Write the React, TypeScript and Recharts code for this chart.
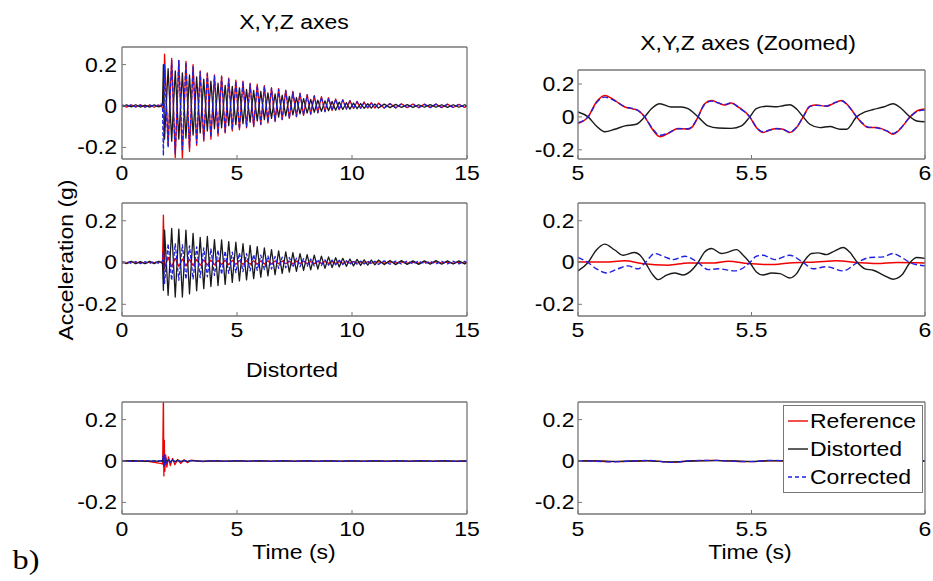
import React from 'react';
import { LineChart, Line, XAxis, YAxis, Legend } from 'recharts';

// ---------------------------------------------------------------------------
// Left column (0-15 s). Quiet lead-in, then one sample per half period of the
// decaying ring-down (peak values), then a quiet tail.
// ---------------------------------------------------------------------------

const LEAD_T = [0, 0.2, 0.4, 0.6, 0.8, 1.0, 1.2, 1.4, 1.6, 1.76, 1.8];
const RING_START = 1.85;
const HALF_PERIOD = 0.155;
const RING_SAMPLES = 60;
const TAIL_T = [11.15, 11.4, 11.65, 11.9, 12.15, 12.4, 12.65, 12.9, 13.15, 13.4, 13.65, 13.9, 14.15, 14.4, 14.65, 14.9, 15];
const TIME_LEFT = [
  ...LEAD_T,
  ...Array.from({ length: RING_SAMPLES }, (_, i) => +(RING_START + i * HALF_PERIOD).toFixed(3)),
  ...TAIL_T,
];

// X,Y,Z axes
const XYZ_REF = [
  0.004, -0.005, 0.005, -0.004, 0.006, -0.005, 0.004, -0.006, 0.005, -0.006, -0.01,
  0.25, -0.19, 0.23, -0.25, 0.22, -0.255, 0.215, -0.22, 0.2, -0.19,
  0.17, -0.17, 0.16, -0.16, 0.15, -0.145, 0.145, -0.13, 0.135, -0.12,
  0.125, -0.115, 0.12, -0.105, 0.11, -0.1, 0.105, -0.09, 0.098, -0.082,
  0.088, -0.075, 0.084, -0.066, 0.077, -0.06, 0.07, -0.052, 0.062, -0.045,
  0.055, -0.04, 0.05, -0.033, 0.045, -0.027, 0.04, -0.022, 0.034, -0.018,
  0.03, -0.015, 0.026, -0.012, 0.022, -0.011, 0.019, -0.01, 0.016, -0.01,
  0.014, -0.01, 0.012, -0.009, 0.011, -0.008, 0.01, -0.008, 0.009, -0.007, 0.009, -0.008, 0.009, -0.007, 0.008, -0.007, 0.003,
];
const XYZ_DIST = [
  -0.003, 0.005, -0.004, 0.006, -0.005, 0.004, -0.005, 0.005, -0.004, 0.005, 0.2,
  -0.16, 0.18, -0.17, 0.17, -0.16, 0.16, -0.155, 0.15, -0.14, 0.14,
  -0.13, 0.13, -0.12, 0.12, -0.11, 0.11, -0.105, 0.1, -0.095, 0.095,
  -0.09, 0.088, -0.085, 0.08, -0.078, 0.075, -0.072, 0.07, -0.066, 0.063,
  -0.06, 0.058, -0.054, 0.052, -0.048, 0.046, -0.043, 0.041, -0.038, 0.036,
  -0.034, 0.032, -0.03, 0.028, -0.026, 0.025, -0.023, 0.022, -0.02, 0.019,
  -0.017, 0.016, -0.015, 0.014, -0.013, 0.012, -0.011, 0.011, -0.01, 0.01,
  -0.01, 0.009, -0.008, 0.008, -0.007, 0.007, -0.007, 0.006, -0.006, 0.007, -0.006, 0.006, -0.007, 0.006, -0.006, 0.006, 0,
];
const XYZ_CORR = [
  0.005, -0.004, 0.006, -0.005, 0.004, -0.006, 0.005, -0.004, 0.006, 0.01, -0.24,
  0.2, -0.2, 0.22, -0.23, 0.22, -0.21, 0.21, -0.2, 0.19, -0.18,
  0.165, -0.16, 0.155, -0.15, 0.145, -0.135, 0.14, -0.125, 0.13, -0.115,
  0.12, -0.11, 0.115, -0.1, 0.105, -0.095, 0.1, -0.088, 0.095, -0.08,
  0.087, -0.072, 0.08, -0.064, 0.074, -0.058, 0.068, -0.05, 0.06, -0.044,
  0.054, -0.038, 0.048, -0.032, 0.043, -0.027, 0.038, -0.022, 0.033, -0.018,
  0.029, -0.015, 0.025, -0.012, 0.021, -0.011, 0.018, -0.011, 0.015, -0.01,
  0.012, -0.01, 0.011, -0.009, 0.01, -0.008, 0.009, -0.008, 0.008, -0.008, 0.009, -0.007, 0.008, -0.007, 0.008, -0.007, 0.002,
];

// middle row
const MID_REF = [
  0.002, -0.002, 0.003, -0.002, 0.002, -0.003, 0.002, -0.002, 0.003, 0, 0.227,
  -0.03, 0.025, -0.02, 0.02, -0.018, 0.017, -0.016, 0.015, -0.014, 0.014,
  -0.013, 0.013, -0.012, 0.012, -0.011, 0.011, -0.01, 0.011, -0.01, 0.01,
  -0.009, 0.01, -0.009, 0.009, -0.008, 0.009, -0.008, 0.008, -0.007, 0.008,
  -0.007, 0.007, -0.006, 0.007, -0.006, 0.006, -0.006, 0.006, -0.005, 0.006,
  -0.005, 0.005, -0.005, 0.005, -0.004, 0.005, -0.004, 0.004, -0.004, 0.004,
  -0.004, 0.004, -0.003, 0.004, -0.003, 0.003, -0.003, 0.003, -0.003, 0.003,
  0.003, -0.003, 0.003, -0.002, 0.003, -0.003, 0.002, -0.003, 0.003, -0.002, 0.003, -0.002, 0.002, -0.003, 0.002, -0.002, 0,
];
const MID_DIST = [
  0.005, -0.005, 0.006, -0.006, 0.005, -0.006, 0.006, -0.005, 0.006, -0.005, -0.133,
  0.155, -0.157, 0.163, -0.165, 0.16, -0.165, 0.155, -0.15, 0.14, -0.135,
  0.12, -0.125, 0.125, -0.115, 0.11, -0.11, 0.108, -0.105, 0.1, -0.095,
  0.097, -0.088, 0.09, -0.083, 0.082, -0.077, 0.076, -0.07, 0.07, -0.064,
  0.062, -0.058, 0.056, -0.052, 0.051, -0.046, 0.047, -0.042, 0.043, -0.038,
  0.038, -0.035, 0.035, -0.031, 0.031, -0.028, 0.027, -0.024, 0.023, -0.021,
  0.02, -0.018, 0.017, -0.016, 0.015, -0.014, 0.013, -0.012, 0.012, -0.011,
  0.012, -0.01, 0.01, -0.01, 0.009, -0.009, 0.008, -0.009, 0.008, -0.008, 0.009, -0.008, 0.008, -0.007, 0.008, -0.007, 0.002,
];
const MID_CORR = [
  -0.004, 0.005, -0.004, 0.005, -0.005, 0.004, -0.005, 0.005, -0.004, 0.005, 0.05,
  -0.1, 0.09, -0.085, 0.09, -0.085, 0.085, -0.08, 0.08, -0.078, 0.075,
  -0.072, 0.07, -0.068, 0.065, -0.062, 0.06, -0.057, 0.055, -0.052, 0.05,
  -0.048, 0.046, -0.044, 0.042, -0.04, 0.038, -0.037, 0.035, -0.034, 0.032,
  -0.031, 0.029, -0.028, 0.026, -0.025, 0.024, -0.023, 0.021, -0.02, 0.019,
  -0.018, 0.017, -0.016, 0.015, -0.014, 0.013, -0.013, 0.012, -0.011, 0.011,
  -0.01, 0.009, -0.009, 0.008, -0.008, 0.007, -0.007, 0.007, -0.006, 0.006,
  -0.009, 0.008, -0.008, 0.007, -0.007, 0.007, -0.006, 0.007, -0.006, 0.006, -0.007, 0.006, -0.006, 0.006, -0.006, 0.006, 0,
];

// "Distorted" row: only the impact spike, then flat
const TIME_BOT = [
  0, 0.5, 1.0, 1.4, 1.6, 1.72, 1.77, 1.8, 1.82, 1.84,
  1.86, 1.9, 1.95, 2.02, 2.1, 2.2, 2.3, 2.42, 2.55, 2.7,
  2.85, 3.0, 3.5, 4, 4.5, 5, 5.5, 6, 6.5, 7,
  7.5, 8, 8.5, 9, 9.5, 10, 10.5, 11, 11.5, 12,
  12.5, 13, 13.5, 14, 14.5, 15,
];
const BOT_REF = [
  0.002, -0.002, 0.001, -0.006, -0.01, -0.012, -0.015, 0.33, -0.072, 0.1,
  -0.05, 0.03, -0.03, 0.02, -0.022, 0.012, -0.018, 0.008, -0.012, 0.006,
  -0.008, 0.004, -0.003, 0.002, -0.002, 0.002, -0.002, 0.002, -0.002, 0.002,
  -0.002, 0.002, -0.002, 0.002, -0.002, 0.002, -0.002, 0.002, -0.002, 0.002,
  -0.002, 0.002, -0.002, 0.002, -0.002, 0,
];
const BOT_DIST = [
  0, 0.002, -0.002, 0.001, -0.002, 0.002, -0.003, 0.012, -0.018, 0.014,
  -0.01, 0.007, -0.006, 0.005, -0.004, 0.004, -0.003, 0.003, -0.002, 0.002,
  -0.002, 0.002, -0.001, 0.001, -0.001, 0.001, -0.001, 0.001, -0.001, 0.001,
  -0.001, 0.001, -0.001, 0.001, -0.001, 0.001, -0.001, 0.001, -0.001, 0.001,
  -0.001, 0.001, -0.001, 0.001, -0.001, 0,
];
const BOT_CORR = [
  0.001, -0.002, 0.002, -0.001, 0.002, -0.002, 0.003, 0.028, -0.025, 0.03,
  -0.02, 0.015, -0.01, 0.008, -0.006, 0.005, -0.004, 0.003, -0.003, 0.002,
  -0.002, 0.002, -0.002, 0.002, -0.002, 0.002, -0.002, 0.002, -0.002, 0.002,
  -0.002, 0.002, -0.002, 0.002, -0.002, 0.002, -0.002, 0.002, -0.002, 0.002,
  -0.002, 0.002, -0.002, 0.002, -0.002, 0,
];

// ---------------------------------------------------------------------------
// Right column (5-6 s zoom)
// ---------------------------------------------------------------------------

const ZXYZ_RC_T = [
  5.0, 5.029, 5.053, 5.077, 5.106, 5.135, 5.159, 5.173, 5.192, 5.216,
  5.236, 5.26, 5.288, 5.317, 5.332, 5.346, 5.365, 5.385, 5.404, 5.423,
  5.442, 5.462, 5.495, 5.514, 5.533, 5.553, 5.572, 5.591, 5.61, 5.63,
  5.649, 5.668, 5.687, 5.716, 5.735, 5.759, 5.779, 5.803, 5.822, 5.836,
  5.86, 5.889, 5.908, 5.928, 5.957, 5.981, 6.0,
];
const ZXYZ_REF = [
  -0.04, 0, 0.09, 0.13, 0.1, 0.06, 0.048, 0.04, 0, -0.08,
  -0.12, -0.1, -0.07, -0.075, -0.054, 0, 0.08, 0.1, 0.085, 0.072,
  0.085, 0.06, 0, -0.065, -0.095, -0.08, -0.07, -0.075, -0.095, -0.065,
  0, 0.065, 0.072, 0.065, 0.08, 0.1, 0.068, 0, -0.045, -0.065,
  -0.065, -0.085, -0.105, -0.075, 0, 0.04, 0.048,
];
const ZXYZ_CORR = [
  -0.035, 0, 0.085, 0.12, 0.098, 0.062, 0.05, 0.038, 0, -0.075,
  -0.112, -0.098, -0.072, -0.072, -0.05, 0, 0.076, 0.096, 0.085, 0.075,
  0.086, 0.058, 0, -0.062, -0.09, -0.08, -0.072, -0.076, -0.092, -0.062,
  0, 0.062, 0.07, 0.066, 0.082, 0.098, 0.066, 0, -0.042, -0.062,
  -0.066, -0.084, -0.1, -0.072, 0, 0.036, 0.042,
];
const ZXYZ_DIST_T = [
  5.0, 5.029, 5.053, 5.077, 5.106, 5.135, 5.168, 5.192, 5.211, 5.236,
  5.269, 5.298, 5.317, 5.346, 5.375, 5.404, 5.442, 5.471, 5.495, 5.514,
  5.543, 5.572, 5.591, 5.61, 5.63, 5.649, 5.668, 5.697, 5.726, 5.755,
  5.774, 5.803, 5.827, 5.851, 5.88, 5.908, 5.933, 5.957, 5.976, 6.0,
];
const ZXYZ_DIST = [
  0.03, 0, -0.055, -0.09, -0.075, -0.055, -0.045, 0, 0.048, 0.08,
  0.06, 0.06, 0.05, 0, -0.055, -0.068, -0.07, -0.055, 0, 0.05,
  0.065, 0.062, 0.068, 0.074, 0.048, 0, -0.045, -0.065, -0.058, -0.075,
  -0.075, 0, 0.03, 0.045, 0.06, 0.08, 0.048, 0, -0.025, -0.03,
];

const ZMID_REF_T = [5.0, 5.077, 5.135, 5.183, 5.26, 5.317, 5.394, 5.433, 5.49, 5.553, 5.61, 5.687, 5.745, 5.803, 5.86, 5.918, 6.0];
const ZMID_REF = [0.002, 0.002, 0.008, -0.005, -0.013, -0.002, -0.002, 0.006, -0.005, -0.01, -0.002, 0.003, 0.008, 0, -0.005, 0, -0.002];
const ZMID_DIST_T = [
  5.0, 5.029, 5.053, 5.077, 5.106, 5.13, 5.163, 5.183, 5.194, 5.216,
  5.231, 5.255, 5.279, 5.303, 5.322, 5.346, 5.365, 5.385, 5.413, 5.433,
  5.457, 5.476, 5.495, 5.514, 5.533, 5.558, 5.582, 5.61, 5.63, 5.649,
  5.673, 5.692, 5.716, 5.74, 5.764, 5.783, 5.805, 5.827, 5.851, 5.88,
  5.908, 5.933, 5.957, 5.976, 6.0,
];
const ZMID_DIST = [
  -0.04, 0, 0.06, 0.088, 0.06, 0.035, 0.048, 0.027, 0, -0.06,
  -0.082, -0.06, -0.05, -0.06, -0.045, 0, 0.05, 0.067, 0.043, 0.05,
  0.062, 0.035, 0, -0.045, -0.06, -0.05, -0.053, -0.074, -0.053, 0,
  0.043, 0.046, 0.038, 0.056, 0.072, 0.05, 0, -0.03, -0.037, -0.06,
  -0.08, -0.06, 0, 0.024, 0.02,
];
const ZMID_CORR_T = [
  5.0, 5.029, 5.053, 5.082, 5.115, 5.144, 5.173, 5.194, 5.221, 5.25,
  5.274, 5.308, 5.346, 5.375, 5.404, 5.452, 5.481, 5.495, 5.514, 5.533,
  5.567, 5.61, 5.649, 5.678, 5.716, 5.764, 5.805, 5.841, 5.88, 5.908,
  5.933, 5.957, 6.0,
];
const ZMID_CORR = [
  0.024, 0, -0.03, -0.05, -0.03, -0.016, -0.03, 0, 0.043, 0.027,
  0.014, 0.03, 0, -0.034, -0.03, -0.04, -0.02, 0, 0.03, 0.035,
  0.014, 0.035, 0, -0.03, -0.02, -0.04, 0, 0.024, 0.027, 0.043,
  0.024, 0, -0.016,
];

const ZBOT_T = [5.0, 5.05, 5.1, 5.15, 5.2, 5.27, 5.33, 5.4, 5.45, 5.5, 5.55, 5.6, 5.65, 5.7, 5.75, 5.8, 5.85, 5.9, 5.95, 6.0];
const ZBOT_REF = [0.002, 0, -0.003, -0.002, 0.002, -0.006, 0.001, 0.003, -0.001, -0.003, 0.002, 0.001, -0.002, 0.002, 0.001, -0.002, 0.002, 0, -0.002, 0.001];
const ZBOT_DIST = [0, 0.001, -0.002, 0, 0.001, -0.004, 0, 0.002, 0, -0.002, 0.001, 0, -0.001, 0.001, 0, -0.001, 0.001, 0, -0.001, 0];
const ZBOT_CORR = [0.001, -0.001, -0.004, -0.001, 0.003, -0.007, 0.002, 0.003, -0.002, -0.003, 0.003, 0.001, -0.003, 0.002, 0.002, -0.002, 0.003, -0.001, -0.002, 0.001];

const LEFT_TICKS = [0, 5, 10, 15];
const RIGHT_TICKS = [5, 5.5, 6];
const Y_TICKS = [-0.2, 0, 0.2];
const Y_DOMAIN: [number, number] = [-0.256, 0.285];

// ---------------------------------------------------------------------------
// Styling
// ---------------------------------------------------------------------------

const FONT = '"Liberation Sans", Arial, Helvetica, sans-serif';
const SX = 1.15; // the figure's lettering is slightly wide
const RED = '#f00000';
const BLACK = '#1a1a1a';
const BLUE = '#2020e0';
const AXIS = '#777777';
const Y_AXIS_W = 50;
const X_AXIS_H = 32;
const RIGHT_PAD = 12;
const TICK = 4;

const LEGEND_ITEMS = [
  { name: 'Reference', color: RED, dash: undefined as string | undefined },
  { name: 'Distorted', color: BLACK, dash: undefined as string | undefined },
  { name: 'Corrected', color: BLUE, dash: '4 3' },
];

type Series = { t: number[]; v: number[]; color: string; width: number; dash?: string; curve: 'linear' | 'monotone' };
type Box = { x: number; y: number; w: number; h: number };

const toPoints = (t: number[], v: number[]) => t.map((x, i) => ({ t: x, v: v[i] }));
const fmt = (v: number) => String(v);

const XTick = (props: any) => {
  const { x, y, payload } = props;
  return (
    <text transform={`translate(${x},${y}) scale(${SX},1)`} textAnchor="middle" dominantBaseline="central"
      fontSize={20} fontFamily={FONT} fill="#000">
      {fmt(payload.value)}
    </text>
  );
};

const YTick = (props: any) => {
  const { x, y, payload } = props;
  return (
    <text transform={`translate(${x},${y}) scale(${SX},1)`} textAnchor="end" dominantBaseline="central"
      fontSize={20} fontFamily={FONT} fill="#000">
      {fmt(payload.value)}
    </text>
  );
};

const LegendBox = () => (
  <svg width={140} height={88} style={{ display: 'block' }}>
    <rect x={0.5} y={0.5} width={139} height={87} fill="#fff" stroke={AXIS} strokeWidth={1} />
    {LEGEND_ITEMS.map((it, i) => {
      const cy = 16 + i * 28;
      return (
        <g key={it.name}>
          <line x1={5} x2={25} y1={cy} y2={cy} stroke={it.color} strokeWidth={1.4} strokeDasharray={it.dash} />
          <text transform={`translate(27,${cy}) scale(${SX},1)`} dominantBaseline="central" fontSize={20} fontFamily={FONT} fill="#000">
            {it.name}
          </text>
        </g>
      );
    })}
  </svg>
);

const Panel = ({ box, xDomain, xTicks, series, xGap, yGap, legend }: {
  box: Box; xDomain: [number, number]; xTicks: number[]; series: Series[]; xGap: number; yGap: number; legend?: { x: number; y: number };
}) => {
  const width = box.w + Y_AXIS_W + 1 + RIGHT_PAD;
  const height = box.h + 1 + X_AXIS_H;
  const axisLine = { stroke: AXIS, strokeWidth: 1.3 };
  const tickLine = { stroke: AXIS, strokeWidth: 1 };
  return (
    <div style={{ position: 'absolute', left: box.x - Y_AXIS_W, top: box.y - 1 }}>
      <LineChart width={width} height={height} margin={{ top: 0, right: RIGHT_PAD, bottom: 0, left: 0 }}>
        <XAxis xAxisId="b" type="number" dataKey="t" domain={xDomain} ticks={xTicks} interval={0} allowDataOverflow
          height={X_AXIS_H} tickSize={-TICK} tickMargin={xGap} tick={<XTick />} axisLine={axisLine} tickLine={tickLine} />
        <XAxis xAxisId="t" orientation="top" type="number" dataKey="t" domain={xDomain} ticks={xTicks} interval={0} allowDataOverflow
          height={1} tickSize={-TICK} tick={false} axisLine={axisLine} tickLine={tickLine} />
        <YAxis yAxisId="l" type="number" domain={Y_DOMAIN} ticks={Y_TICKS} interval={0} allowDataOverflow
          width={Y_AXIS_W} tickSize={-TICK} tickMargin={yGap} tick={<YTick />} axisLine={axisLine} tickLine={tickLine} />
        <YAxis yAxisId="r" orientation="right" type="number" domain={Y_DOMAIN} ticks={Y_TICKS} interval={0} allowDataOverflow
          width={1} tickSize={-TICK} tick={false} axisLine={axisLine} tickLine={tickLine} />
        {series.map((s, i) => (
          <Line key={i} xAxisId="b" yAxisId="l" data={toPoints(s.t, s.v)} dataKey="v" type={s.curve}
            stroke={s.color} strokeWidth={s.width} strokeDasharray={s.dash} dot={false} activeDot={false}
            isAnimationActive={false} strokeLinejoin="round" />
        ))}
        {legend && (
          <Legend layout="vertical" align="center" verticalAlign="middle" content={() => <LegendBox />}
            wrapperStyle={{ position: 'absolute', left: legend.x, top: legend.y, width: 140, height: 88 }} />
        )}
      </LineChart>
    </div>
  );
};

const Caption = ({ x, y, text, size = 20, rotate = 0, family = FONT }: {
  x: number; y: number; text: string; size?: number; rotate?: number; family?: string;
}) => (
  <div style={{
    position: 'absolute', left: x, top: y, transform: `translate(-50%, -50%) rotate(${rotate}deg) scaleX(${SX})`,
    fontFamily: family, fontSize: size, lineHeight: 1, whiteSpace: 'nowrap', color: '#000',
  }}>
    {text}
  </div>
);

const leftSeries = (r: number[], k: number[], b: number[], t: number[]): Series[] => [
  { t, v: r, color: RED, width: 1.3, curve: 'linear' },
  { t, v: k, color: BLACK, width: 1.3, curve: 'linear' },
  { t, v: b, color: BLUE, width: 1.3, dash: '4 2', curve: 'linear' },
];

export default function App() {
  const L = { x: 122, w: 345 };
  const R = { x: 578, w: 347 };
  return (
    <div style={{ position: 'absolute', left: 0, top: 0, width: 933, height: 581, background: '#fff', overflow: 'hidden' }}>
      <Panel box={{ ...L, y: 47, h: 112 }} xDomain={[0, 15]} xTicks={LEFT_TICKS} xGap={18} yGap={9}
        series={leftSeries(XYZ_REF, XYZ_DIST, XYZ_CORR, TIME_LEFT)} />
      <Panel box={{ ...L, y: 203, h: 113 }} xDomain={[0, 15]} xTicks={LEFT_TICKS} xGap={18} yGap={9}
        series={leftSeries(MID_REF, MID_DIST, MID_CORR, TIME_LEFT)} />
      <Panel box={{ ...L, y: 402, h: 112 }} xDomain={[0, 15]} xTicks={LEFT_TICKS} xGap={19.5} yGap={9}
        series={leftSeries(BOT_REF, BOT_DIST, BOT_CORR, TIME_BOT)} />

      <Panel box={{ ...R, y: 70, h: 89 }} xDomain={[5, 6]} xTicks={RIGHT_TICKS} xGap={18} yGap={7.5}
        series={[
          { t: ZXYZ_RC_T, v: ZXYZ_REF, color: RED, width: 1.5, curve: 'monotone' },
          { t: ZXYZ_DIST_T, v: ZXYZ_DIST, color: BLACK, width: 1.4, curve: 'monotone' },
          { t: ZXYZ_RC_T, v: ZXYZ_CORR, color: BLUE, width: 1.4, dash: '6 3', curve: 'monotone' },
        ]} />
      <Panel box={{ ...R, y: 203, h: 113 }} xDomain={[5, 6]} xTicks={RIGHT_TICKS} xGap={18} yGap={7.5}
        series={[
          { t: ZMID_REF_T, v: ZMID_REF, color: RED, width: 1.5, curve: 'monotone' },
          { t: ZMID_DIST_T, v: ZMID_DIST, color: BLACK, width: 1.4, curve: 'monotone' },
          { t: ZMID_CORR_T, v: ZMID_CORR, color: BLUE, width: 1.4, dash: '6 3', curve: 'monotone' },
        ]} />
      <Panel box={{ ...R, y: 402, h: 112 }} xDomain={[5, 6]} xTicks={RIGHT_TICKS} xGap={19.5} yGap={7.5}
        legend={{ x: 783 - (R.x - Y_AXIS_W), y: 405 - 401 }}
        series={[
          { t: ZBOT_T, v: ZBOT_REF, color: RED, width: 1.4, curve: 'monotone' },
          { t: ZBOT_T, v: ZBOT_DIST, color: BLACK, width: 1.3, curve: 'monotone' },
          { t: ZBOT_T, v: ZBOT_CORR, color: BLUE, width: 1.3, dash: '6 3', curve: 'monotone' },
        ]} />

      <Caption x={294} y={22} text="X,Y,Z axes" />
      <Caption x={748} y={43} text="X,Y,Z axes (Zoomed)" />
      <Caption x={292} y={370} text="Distorted" />
      <Caption x={294} y={552} text="Time (s)" />
      <Caption x={750} y={552} text="Time (s)" />
      <Caption x={66} y={260} text="Acceleration (g)" rotate={-90} />
      <Caption x={26} y={560} text="b)" size={28} family={'"Liberation Serif", "Times New Roman", serif'} />
    </div>
  );
}
